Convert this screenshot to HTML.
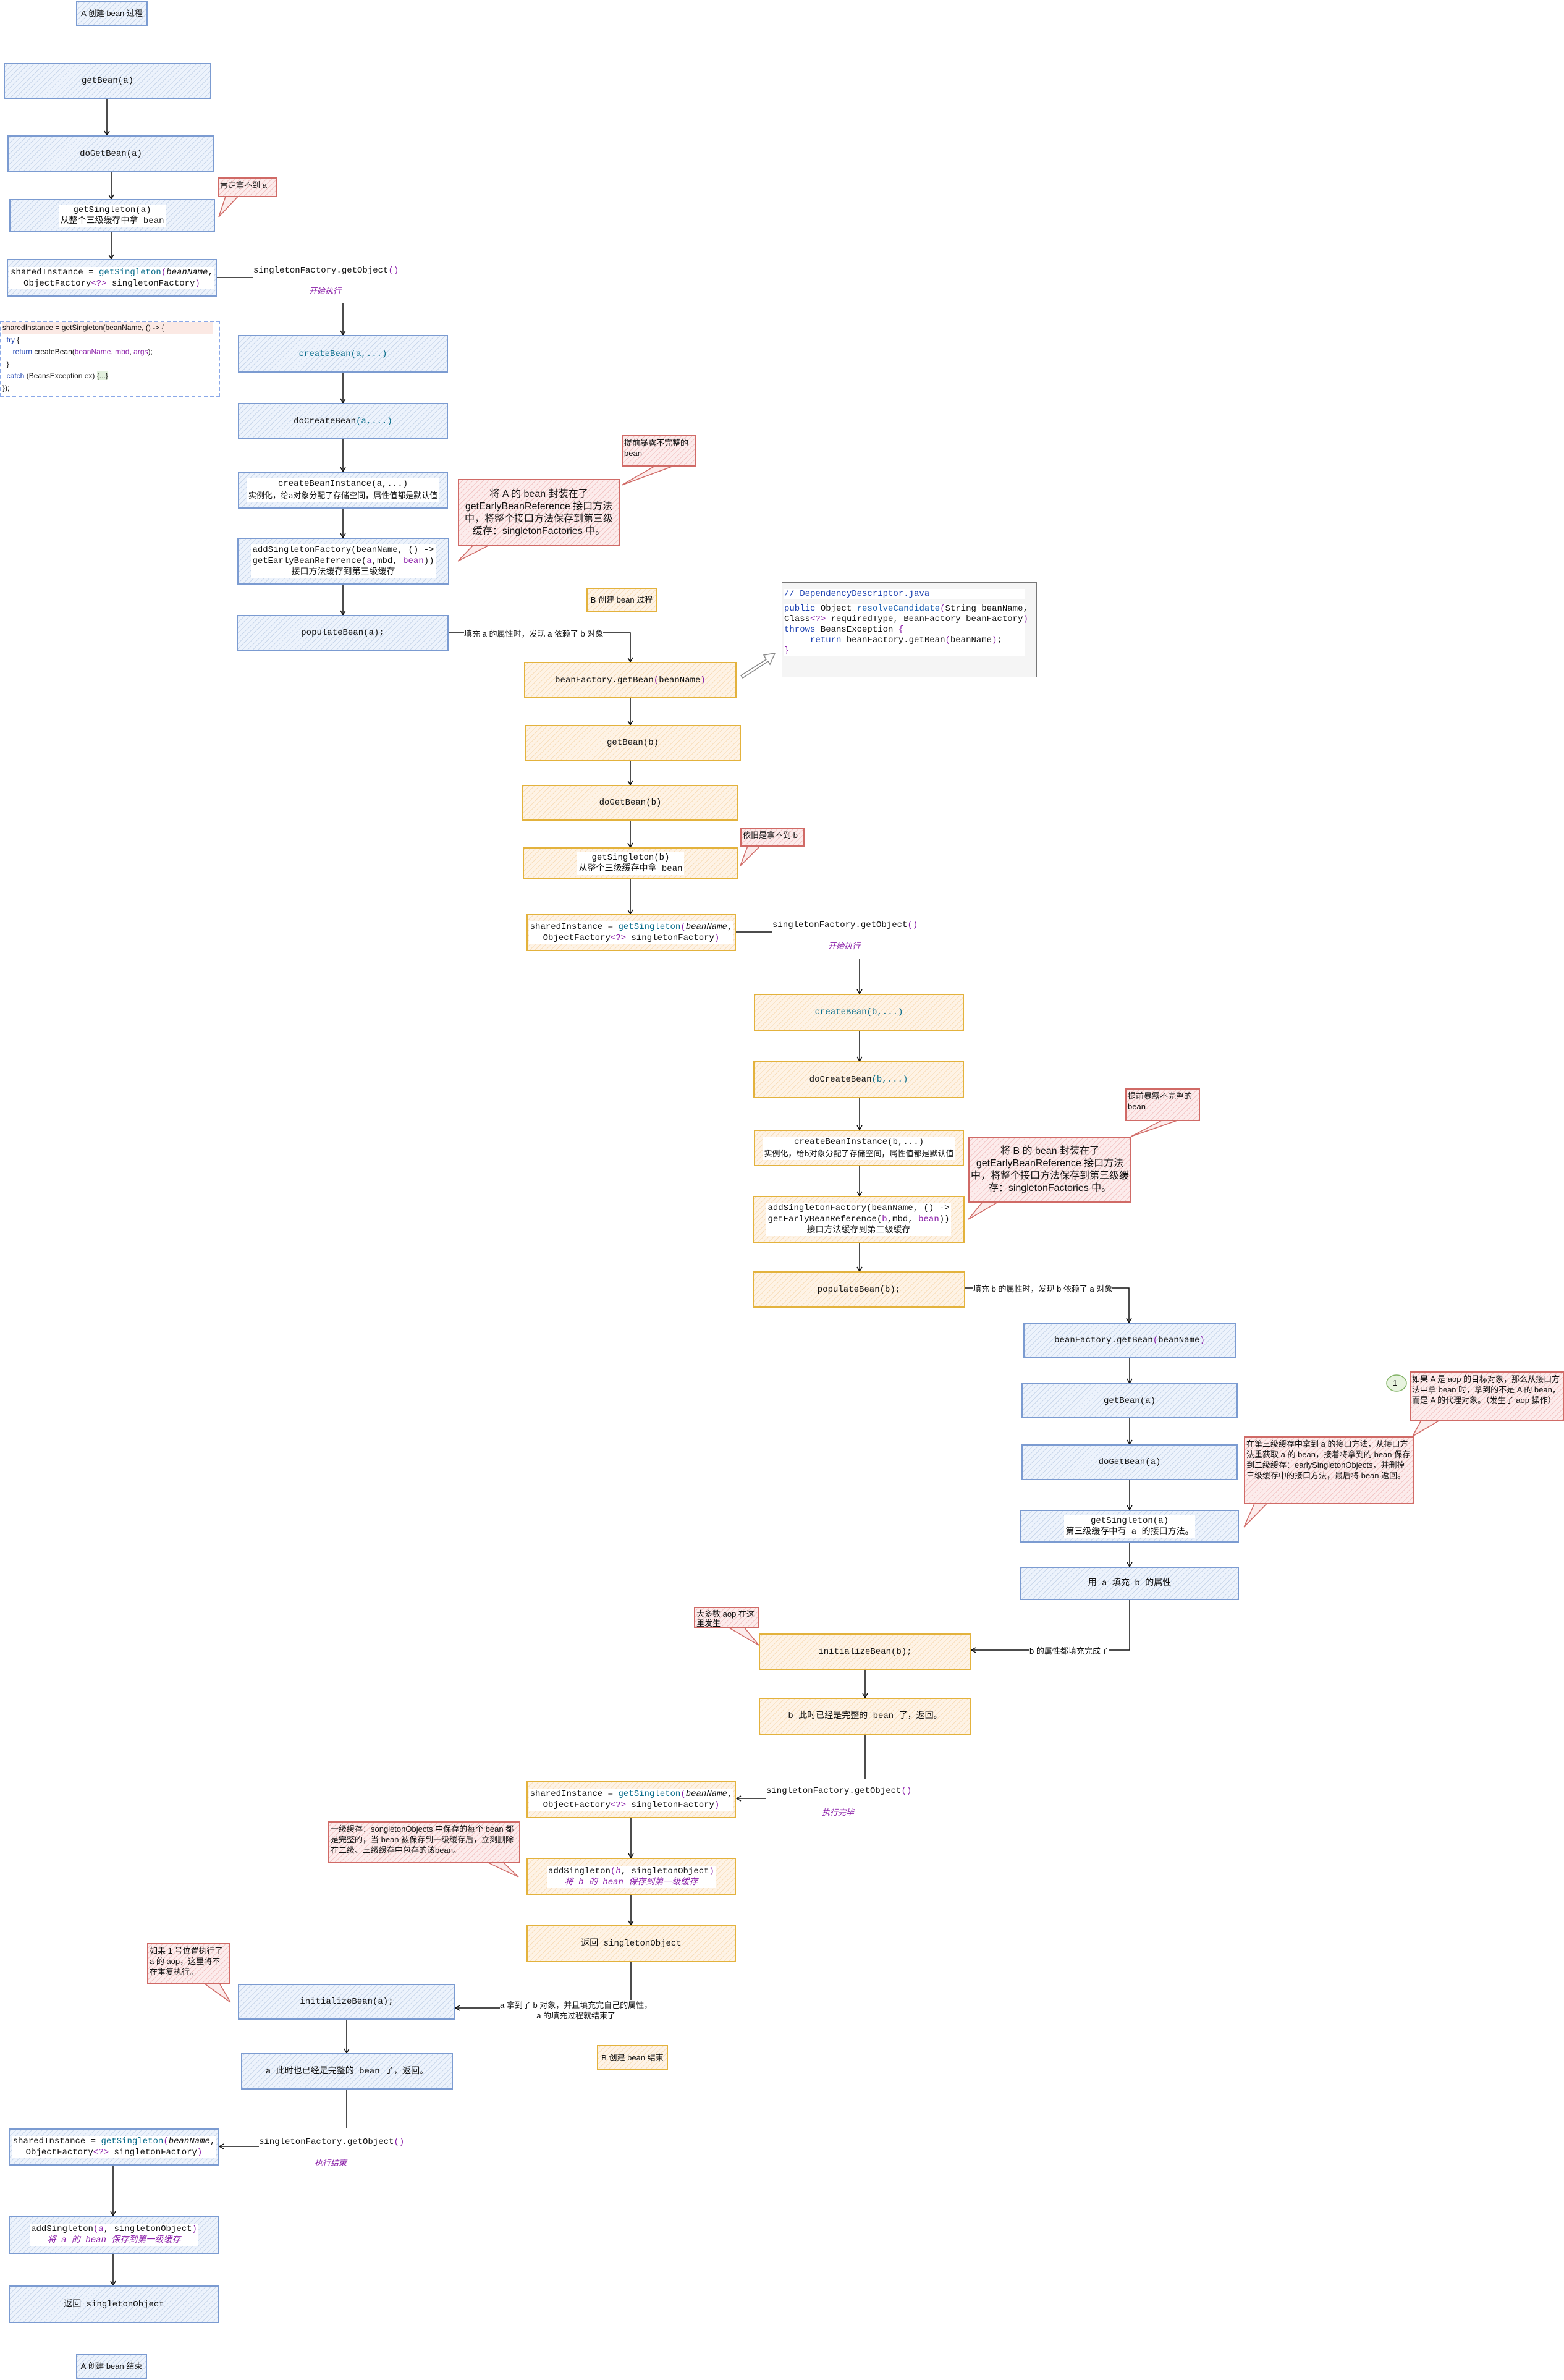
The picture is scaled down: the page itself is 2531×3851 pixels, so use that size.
<!DOCTYPE html>
<html><head><meta charset="utf-8"><style>
body{margin:0;width:2531px;height:3851px;position:relative;background:#fff;overflow:hidden;font-family:"Liberation Mono","Noto Sans CJK SC",monospace;font-size:14px;color:#111}
.x{position:absolute;box-sizing:border-box;display:flex;align-items:center;justify-content:center;text-align:center;line-height:18px}
.b{border:2px solid #7b9bd1;background:repeating-linear-gradient(-45deg,rgba(108,142,191,.28) 0 1px,transparent 1px 6px),#edf3fc}
.o{border:2px solid #e3b23c;background:repeating-linear-gradient(-45deg,rgba(230,160,60,.25) 0 1px,transparent 1px 6px),#fef3e6}
.r{border:2px solid #d06a66;background:repeating-linear-gradient(-45deg,rgba(220,110,110,.3) 0 1px,transparent 1px 6px),#fcecec;font-family:"Liberation Sans","Noto Sans CJK SC",sans-serif;font-size:13px;line-height:17px;justify-content:flex-start;text-align:left;align-items:flex-start;padding:2px}
.r.big{font-size:16px;line-height:20px;text-align:center;justify-content:center;align-items:center}
.l{font-family:"Liberation Sans","Noto Sans CJK SC",sans-serif;font-size:13px}
.w{background:#fff;padding:0 2px}
.t{color:#0b6e8c}.p{color:#8a1ea8}.i{font-style:italic}
.s{font-family:"Liberation Sans","Noto Sans CJK SC",sans-serif;font-size:13px;position:absolute;background:#fff;white-space:nowrap}
.m{position:absolute;white-space:nowrap}
.it{position:absolute;color:#8a1ea8;font-style:italic;font-family:"Liberation Sans","Noto Sans CJK SC",sans-serif;font-size:13px}
</style></head><body>
<svg width="2531" height="3851" style="position:absolute;left:0;top:0" fill="none" stroke="#111" stroke-width="1.5">
<defs><marker id="a" markerWidth="10" markerHeight="10" refX="8" refY="5" orient="auto" markerUnits="userSpaceOnUse"><path d="M1,1 L8,5 L1,9" stroke="#111" fill="none"/></marker></defs>
<g marker-end="url(#a)">
<path d="M173 160V219"/><path d="M180 278V322"/><path d="M180 375V419"/>
<path d="M555 491V542"/><path d="M555 603V652"/><path d="M555 711V763"/><path d="M555 823V870"/><path d="M555 946V995"/>
<path d="M726 1024H1020V1071"/>
<path d="M1020 1130V1173"/><path d="M1020 1231V1270"/><path d="M1020 1328V1371"/><path d="M1020 1423V1479"/>
<path d="M1391 1551V1608"/><path d="M1391 1668V1717"/><path d="M1391 1777V1828"/><path d="M1391 1887V1935"/><path d="M1391 2011V2057"/>
<path d="M1562 2084H1827V2140"/>
<path d="M1828 2198V2238"/><path d="M1828 2295V2337"/><path d="M1828 2395V2443"/><path d="M1828 2496V2535"/>
<path d="M1828 2589V2670H1572"/>
<path d="M1400 2702V2747"/><path d="M1240 2910H1192"/>
<path d="M1021 2942V3006"/><path d="M1021 3067V3115"/>
<path d="M1021 3175V3249H737"/>
<path d="M561 3268V3322"/><path d="M419 3473H355"/>
<path d="M183 3504V3585"/><path d="M183 3647V3698"/>
</g>
<path d="M351 449H410"/><path d="M1191 1508H1250"/><path d="M1400 2807V2878"/><path d="M561 3381V3444"/>
<g stroke="#d06a66" fill="#fcecec" stroke-width="1.5">
<path d="M365 318L354 351L385 318Z"/>
<path d="M1060 754L1006 785L1090 754Z"/>
<path d="M765 883L741 908L790 883Z"/>
<path d="M1210 1369L1198 1401L1230 1369Z"/>
<path d="M1880 1813L1830 1839L1905 1813Z"/>
<path d="M1590 1945L1567 1973L1615 1945Z"/>
<path d="M2300 2298L2286 2324L2330 2298Z"/>
<path d="M2030 2433L2013 2471L2050 2433Z"/>
<path d="M1180 2634L1228 2662L1205 2634Z"/>
<path d="M790 3014L839 3037L815 3014Z"/>
<path d="M330 3209L373 3240L355 3209Z"/>
</g>
<path d="M1199 1093L1240 1067L1236 1060L1254 1057L1246 1075L1243 1070L1202 1097Z" stroke="#888" fill="#fff"/>
<ellipse cx="2260" cy="2238" rx="16" ry="13" stroke="#82b366" fill="#e7f3df"/>
</svg>

<div class="x b l" style="left:123px;top:2px;width:116px;height:40px">A 创建 bean 过程</div>
<div class="x b" style="left:6px;top:102px;width:336px;height:58px">getBean(a)</div>
<div class="x b" style="left:12px;top:219px;width:335px;height:59px">doGetBean(a)</div>
<div class="x b" style="left:15px;top:322px;width:333px;height:53px"><span class="w">getSingleton(a)<br>从整个三级缓存中拿 bean</span></div>
<div class="x b" style="left:11px;top:419px;width:340px;height:61px"><span class="w">sharedInstance = <span class="t">getSingleton</span><span class="p">(</span><span class="i">beanName</span>,<br>ObjectFactory<span class="p">&lt;?&gt;</span> singletonFactory<span class="p">)</span></span></div>
<div class="m" style="left:410px;top:430px">singletonFactory.getObject<span class="p">()</span></div>
<div class="it" style="left:500px;top:460px">开始执行</div>
<div style="position:absolute;left:0;top:519px;width:356px;height:123px;box-sizing:border-box;border:2px dashed #8aa8e8;font-family:'Liberation Sans',sans-serif;font-size:12px;line-height:19.5px;padding-left:2px">
<div style="background:#fbe9e4;width:340px"><u>sharedInstance</u> = getSingleton(beanName, () -&gt; {</div>
<div>&nbsp;&nbsp;<span style="color:#1a3fb0">try</span> {</div>
<div>&nbsp;&nbsp;&nbsp;&nbsp;&nbsp;<span style="color:#1a3fb0">return</span> createBean(<span class="p">beanName</span>, <span class="p">mbd</span>, <span class="p">args</span>);</div>
<div>&nbsp;&nbsp;}</div>
<div>&nbsp;&nbsp;<span style="color:#1a3fb0">catch</span> (BeansException ex) <span style="background:#e4f1df">{...}</span></div>
<div>});</div></div>
<div class="x b" style="left:385px;top:542px;width:340px;height:61px"><span class="t">createBean(a,...)</span></div>
<div class="x b" style="left:385px;top:652px;width:340px;height:59px">doCreateBean<span class="t">(a,...)</span></div>
<div class="x b" style="left:385px;top:763px;width:340px;height:60px"><span class="w">createBeanInstance(a,...)<br><span style="font-family:'Noto Sans CJK SC';font-size:13px">实例化，给a对象分配了存储空间，属性值都是默认值</span></span></div>
<div class="x b" style="left:384px;top:870px;width:343px;height:76px"><span class="w">addSingletonFactory(beanName, () -&gt;<br>getEarlyBeanReference(<span class="p">a</span>,mbd, <span class="p">bean</span>))<br>接口方法缓存到第三级缓存</span></div>
<div class="x b" style="left:383px;top:995px;width:343px;height:58px">populateBean(a);</div>
<div class="s" style="left:751px;top:1015px">填充 a 的属性时，发现 a 依赖了 b 对象</div>

<div class="x r" style="left:352px;top:287px;width:97px;height:32px">肯定拿不到 a</div>
<div class="x r" style="left:1006px;top:704px;width:120px;height:51px">提前暴露不完整的<br>bean</div>
<div class="x r big" style="left:741px;top:775px;width:262px;height:109px">将 A 的 bean 封装在了 getEarlyBeanReference 接口方法中，将整个接口方法保存到第三级缓存：singletonFactories 中。</div>

<div class="x o l" style="left:949px;top:951px;width:114px;height:40px">B 创建 bean 过程</div>
<div style="position:absolute;left:1265px;top:942px;width:413px;height:154px;box-sizing:border-box;border:1.5px solid #777;background:#f5f5f5;font-size:14px;line-height:17px;padding:10px 0 0 3px;white-space:nowrap">
<div style="background:#fff;width:390px;color:#1a3fb0">// DependencyDescriptor.java</div>
<div style="background:#fff;width:390px;margin-top:7px"><span style="color:#1a3fb0">public</span> Object <span style="color:#1a5fb0">resolveCandidate</span><span class="p">(</span>String beanName,<br>Class<span class="p">&lt;?&gt;</span> requiredType, BeanFactory beanFactory<span class="p">)</span><br><span style="color:#1a3fb0">throws</span> BeansException <span class="p">{</span><br>&nbsp;&nbsp;&nbsp;&nbsp;&nbsp;<span style="color:#1a3fb0">return</span> beanFactory.getBean<span class="p">(</span>beanName<span class="p">)</span>;<br><span class="p">}</span></div></div>
<div class="x o" style="left:848px;top:1071px;width:344px;height:59px">beanFactory.getBean<span class="p">(</span>beanName<span class="p">)</span></div>
<div class="x o" style="left:849px;top:1173px;width:350px;height:58px">getBean(b)</div>
<div class="x o" style="left:845px;top:1270px;width:350px;height:58px">doGetBean(b)</div>
<div class="x o" style="left:846px;top:1371px;width:349px;height:52px"><span class="w">getSingleton(b)<br>从整个三级缓存中拿 bean</span></div>
<div class="x r" style="left:1198px;top:1339px;width:104px;height:31px">依旧是拿不到 b</div>
<div class="x o" style="left:852px;top:1479px;width:339px;height:60px"><span class="w">sharedInstance = <span class="t">getSingleton</span><span class="p">(</span><span class="i">beanName</span>,<br>ObjectFactory<span class="p">&lt;?&gt;</span> singletonFactory<span class="p">)</span></span></div>
<div class="m" style="left:1250px;top:1489px">singletonFactory.getObject<span class="p">()</span></div>
<div class="it" style="left:1340px;top:1520px">开始执行</div>
<div class="x o" style="left:1220px;top:1608px;width:340px;height:60px"><span class="t">createBean(b,...)</span></div>
<div class="x o" style="left:1219px;top:1717px;width:341px;height:60px">doCreateBean<span class="t">(b,...)</span></div>
<div class="x o" style="left:1220px;top:1828px;width:340px;height:59px"><span class="w">createBeanInstance(b,...)<br><span style="font-family:'Noto Sans CJK SC';font-size:13px">实例化，给b对象分配了存储空间，属性值都是默认值</span></span></div>
<div class="x o" style="left:1218px;top:1935px;width:343px;height:76px"><span class="w">addSingletonFactory(beanName, () -&gt;<br>getEarlyBeanReference(<span class="p">b</span>,mbd, <span class="p">bean</span>))<br>接口方法缓存到第三级缓存</span></div>
<div class="x o" style="left:1218px;top:2057px;width:344px;height:59px">populateBean(b);</div>
<div class="s" style="left:1575px;top:2075px">填充 b 的属性时，发现 b 依赖了 a 对象</div>
<div class="x r" style="left:1821px;top:1761px;width:121px;height:53px">提前暴露不完整的<br>bean</div>
<div class="x r big" style="left:1567px;top:1839px;width:264px;height:107px">将 B 的 bean 封装在了 getEarlyBeanReference 接口方法中，将整个接口方法保存到第三级缓存：singletonFactories 中。</div>

<div class="x b" style="left:1656px;top:2140px;width:344px;height:58px">beanFactory.getBean<span class="p">(</span>beanName<span class="p">)</span></div>
<div class="x b" style="left:1653px;top:2238px;width:350px;height:57px">getBean(a)</div>
<div class="x b" style="left:1653px;top:2337px;width:350px;height:58px">doGetBean(a)</div>
<div class="x b" style="left:1651px;top:2443px;width:354px;height:53px"><span class="w">getSingleton(a)<br>第三级缓存中有 a 的接口方法。</span></div>
<div class="x b" style="left:1651px;top:2535px;width:354px;height:54px">用 a 填充 b 的属性</div>
<div class="m l" style="left:2254px;top:2230px">1</div>
<div class="x r" style="left:2281px;top:2219px;width:250px;height:80px">如果 A 是 aop 的目标对象，那么从接口方法中拿 bean 时，拿到的不是 A 的 bean，而是 A 的代理对象。（发生了 aop 操作）</div>
<div class="x r" style="left:2013px;top:2324px;width:275px;height:110px">在第三级缓存中拿到 a 的接口方法，从接口方法重获取 a 的 bean，接着将拿到的 bean 保存到二级缓存：earlySingletonObjects，并删掉三级缓存中的接口方法，最后将 bean 返回。</div>
<div class="s" style="left:1666px;top:2661px">b 的属性都填充完成了</div>
<div class="x r" style="left:1123px;top:2600px;width:106px;height:35px;line-height:15px">大多数 aop 在这里发生</div>
<div class="x o" style="left:1228px;top:2643px;width:344px;height:59px">initializeBean(b);</div>
<div class="x o" style="left:1228px;top:2747px;width:344px;height:60px">b 此时已经是完整的 bean 了，返回。</div>
<div class="m" style="left:1240px;top:2890px">singletonFactory.getObject<span class="p">()</span></div>
<div class="it" style="left:1330px;top:2922px">执行完毕</div>
<div class="x o" style="left:852px;top:2882px;width:339px;height:60px"><span class="w">sharedInstance = <span class="t">getSingleton</span><span class="p">(</span><span class="i">beanName</span>,<br>ObjectFactory<span class="p">&lt;?&gt;</span> singletonFactory<span class="p">)</span></span></div>
<div class="x r" style="left:531px;top:2947px;width:311px;height:68px">一级缓存：songletonObjects 中保存的每个 bean 都是完整的，当 bean 被保存到一级缓存后，立刻删除在二级、三级缓存中包存的该bean。</div>
<div class="x o" style="left:852px;top:3006px;width:339px;height:61px"><span class="w">addSingleton<span class="p">(</span><span class="p i">b</span>, singletonObject<span class="p">)</span><br><span class="p i">将 b 的 bean 保存到第一级缓存</span></span></div>
<div class="x o" style="left:852px;top:3115px;width:339px;height:60px">返回 singletonObject</div>
<div class="s" style="left:809px;top:3236px;line-height:17px;text-align:center;background:#fff">a 拿到了 b 对象，并且填充完自己的属性，<br>a 的填充过程就结束了</div>
<div class="x o l" style="left:966px;top:3309px;width:115px;height:41px">B 创建 bean 结束</div>
<div class="x r" style="left:238px;top:3144px;width:135px;height:66px">如果 1 号位置执行了 a 的 aop，这里将不在重复执行。</div>
<div class="x b" style="left:385px;top:3210px;width:352px;height:58px">initializeBean(a);</div>
<div class="x b" style="left:390px;top:3322px;width:343px;height:59px">a 此时也已经是完整的 bean 了，返回。</div>
<div class="m" style="left:419px;top:3458px">singletonFactory.getObject<span class="p">()</span></div>
<div class="it" style="left:509px;top:3489px">执行结束</div>
<div class="x b" style="left:14px;top:3444px;width:341px;height:60px"><span class="w">sharedInstance = <span class="t">getSingleton</span><span class="p">(</span><span class="i">beanName</span>,<br>ObjectFactory<span class="p">&lt;?&gt;</span> singletonFactory<span class="p">)</span></span></div>
<div class="x b" style="left:14px;top:3585px;width:341px;height:62px"><span class="w">addSingleton<span class="p">(</span><span class="p i">a</span>, singletonObject<span class="p">)</span><br><span class="p i">将 a 的 bean 保存到第一级缓存</span></span></div>
<div class="x b" style="left:14px;top:3698px;width:341px;height:61px">返回 singletonObject</div>
<div class="x b l" style="left:123px;top:3809px;width:115px;height:40px">A 创建 bean 结束</div>
</body></html>
